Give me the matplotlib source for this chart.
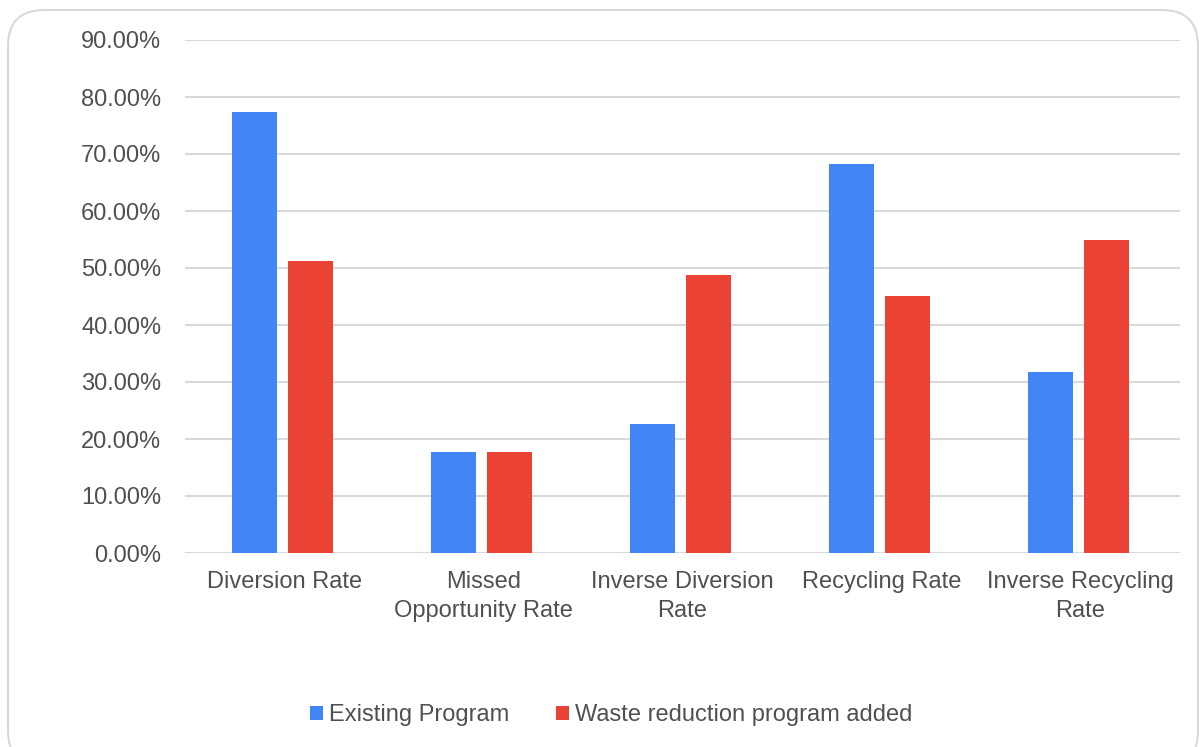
import matplotlib
matplotlib.use("Agg")
import matplotlib.pyplot as plt
import numpy as np
from matplotlib.patches import FancyBboxPatch
from matplotlib.ticker import FuncFormatter, MultipleLocator

categories = ["Diversion Rate", "Missed\nOpportunity Rate", "Inverse Diversion\nRate",
              "Recycling Rate", "Inverse Recycling\nRate"]
existing = [77.3, 17.7, 22.7, 68.2, 31.8]
waste_reduction = [51.2, 17.7, 48.8, 45.1, 54.9]
series_names = ["Existing Program", "Waste reduction program added"]

BLUE = "#4285F4"
RED = "#EA4335"
TEXT = "#505050"
GRID = "#D9D9D9"

plt.rcParams["font.family"] = ["Liberation Sans", "DejaVu Sans"]

W, H = 1204, 747
fig = plt.figure(figsize=(W / 100, H / 100), dpi=100)

# rounded outer frame, running off the bottom edge
frame = FancyBboxPatch((8 / W, -20 / H), (1190 / W), (757 / H),
                       boxstyle="round,pad=0,rounding_size=0.03",
                       transform=fig.transFigure, facecolor="none",
                       edgecolor=GRID, linewidth=1.5, mutation_aspect=W / H,
                       zorder=-1)
fig.patches.append(frame)

ax = fig.add_axes([185 / W, 1 - 553 / H, (1180 - 185) / W, (553 - 40) / H])
ax.set_facecolor("none")

x = np.arange(len(categories))
bw = 0.226
ax.bar(x - 0.15, existing, width=bw, color=BLUE, label=series_names[0], zorder=3)
ax.bar(x + 0.133, waste_reduction, width=bw, color=RED, label=series_names[1], zorder=3)

ax.set_xlim(-0.5, len(categories) - 0.5)
ax.set_ylim(0, 90)
ax.yaxis.set_major_locator(MultipleLocator(10))
ax.yaxis.set_major_formatter(FuncFormatter(lambda v, p: f"{v:.2f}%"))
ax.grid(axis="y", color=GRID, linewidth=1.5, zorder=0)
ax.set_axisbelow(True)
for s in ax.spines.values():
    s.set_visible(False)
ax.tick_params(axis="y", length=0, pad=17, labelsize=17, labelcolor=TEXT)
ax.tick_params(axis="x", length=0, pad=13, labelsize=17, labelcolor=TEXT)
ax.set_xticks(x)
ax.set_xticklabels(categories, linespacing=1.38)

leg = fig.legend(loc="center", bbox_to_anchor=(611 / W, 1 - 715 / H), ncol=2,
                 frameon=False, fontsize=17, handlelength=0.55, handleheight=0.55,
                 handletextpad=0.25, columnspacing=2.0, labelcolor=TEXT)

fig.savefig("out.png", dpi=100)
